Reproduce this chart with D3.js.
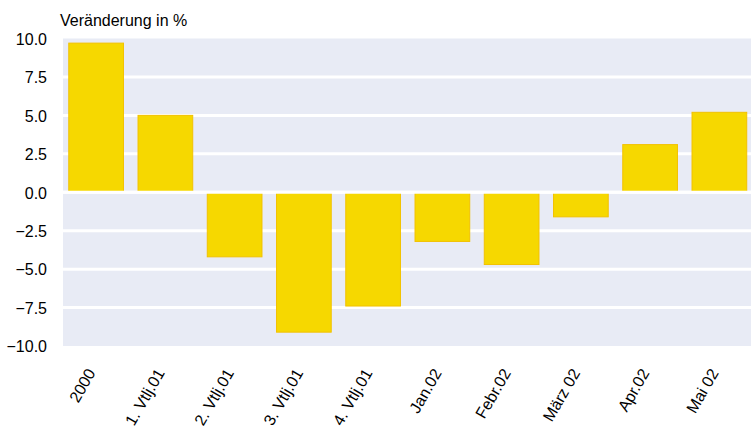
<!DOCTYPE html>
<html>
<head>
<meta charset="utf-8">
<script src="https://cdn.jsdelivr.net/npm/d3@7"></script>
<style>
  body { margin: 0; background: #fff; }
  svg { display: block; font-family: "Liberation Sans", Arial, sans-serif; }
</style>
</head>
<body>
<div id="chart"></div>
<script>
// Data
var categories = ['2000', '1. Vtlj.01', '2. Vtlj.01', '3. Vtlj.01', '4. Vtlj.01', 'Jan.02', 'Febr.02', 'März 02', 'Apr.02', 'Mai 02'];
var values = [9.7, 5.0, -4.2, -9.1, -7.4, -3.2, -4.7, -1.6, 3.1, 5.2];
var yTicks = [-10, -7.5, -5, -2.5, 0, 2.5, 5, 7.5, 10];

var width = 751;
var height = 428;

var svg = d3.select('#chart')
    .append('svg')
    .attr('width', width)
    .attr('height', height);

var x = d3.scaleBand()
    .domain(categories)
    .range([61.5, 754])
    .paddingInner(0.21)
    .paddingOuter(0.105);

var y = d3.scaleLinear()
    .domain([-10, 10])
    .range([346, 38.5]);

// plot background
svg.append('rect')
    .attr('x', 63)
    .attr('y', y(10))
    .attr('width', width - 63)
    .attr('height', y(-10) - y(10))
    .attr('fill', '#e8ebf5');

// gridlines
svg.append('g')
    .selectAll('line')
    .data(yTicks.filter(d => d > -10 && d < 10))
    .join('line')
    .attr('x1', 63)
    .attr('x2', width)
    .attr('y1', d => y(d))
    .attr('y2', d => y(d))
    .attr('stroke', '#fff')
    .attr('stroke-width', 3);

// bars
svg.append('g')
    .selectAll('rect')
    .data(values)
    .join('rect')
    .attr('x', (d, i) => x(categories[i]))
    .attr('y', d => y(Math.max(0, d)))
    .attr('width', x.bandwidth())
    .attr('height', d => Math.abs(y(d) - y(0)))
    .attr('fill', '#f6d800')
    .attr('stroke', '#f2c200')
    .attr('stroke-width', 1);

// zero line drawn over the bars
svg.append('line')
    .attr('x1', 63)
    .attr('x2', width)
    .attr('y1', y(0))
    .attr('y2', y(0))
    .attr('stroke', '#fff')
    .attr('stroke-width', 3);

// y axis labels
var yAxis = g => g
    .attr('transform', 'translate(47, 0)')
    .call(d3.axisLeft(y).tickValues(yTicks).tickFormat(d3.format('.1f')).tickSize(0).tickPadding(0))
    .call(g => g.select('.domain').remove())
    .call(g => g.selectAll('text')
        .attr('font-family', '"Liberation Sans", Arial, sans-serif')
        .attr('font-size', '16px')
        .attr('fill', '#000')
        .attr('dy', '0.36em'));

svg.append('g').call(yAxis);

// x axis labels, rotated
svg.append('g')
    .selectAll('text')
    .data(categories)
    .join('text')
    .attr('transform', d => `translate(${x(d) + x.bandwidth() / 2 - 5}, 370) rotate(-60)`)
    .attr('text-anchor', 'end')
    .attr('dy', '0.35em')
    .attr('font-size', '16px')
    .attr('fill', '#000')
    .text(d => d);

// title
svg.append('text')
    .attr('x', 60)
    .attr('y', 26)
    .attr('font-size', '16px')
    .attr('fill', '#000')
    .text('Veränderung in %');
</script>
</body>
</html>
